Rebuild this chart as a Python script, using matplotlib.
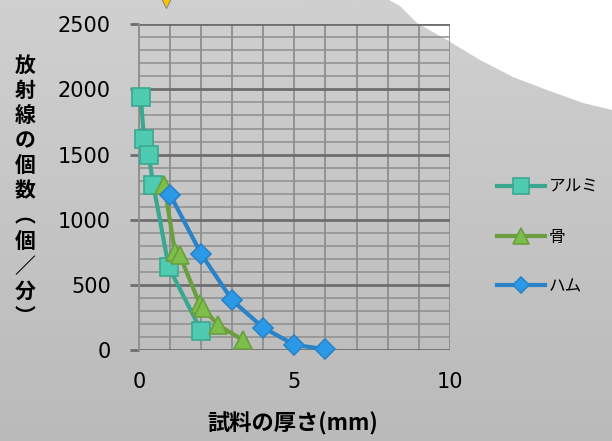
import numpy as np
import matplotlib
matplotlib.use("Agg")
import matplotlib.pyplot as plt
from matplotlib.patches import Polygon
from matplotlib.ticker import MultipleLocator

# 試料の厚さ (mm) と 放射線の個数 (個/分)
alumi_x = [0.05, 0.15, 0.3, 0.45, 0.95, 2.0]
alumi_y = [1940, 1620, 1500, 1270, 635, 145]

bone_x = [0.8, 1.15, 1.3, 1.95, 2.05, 2.55, 3.35]
bone_y = [1270, 750, 730, 350, 320, 190, 75]

ham_x = [1.0, 2.0, 3.0, 4.0, 5.0, 6.0]
ham_y = [1190, 735, 380, 170, 40, 5]

labels = ["アルミ", "骨", "ハム"]
ylabel = "放射線の個数︵個／分︶"
xlabel = "試料の厚さ(mm)"

jp = ["Noto Sans CJK JP", "DejaVu Sans"]

W, H = 612, 441
fig = plt.figure(figsize=(W / 100, H / 100), dpi=100)

# background: grey gradient with the white sweep in the top right corner
bg = fig.add_axes([0, 0, 1, 1])
bg.set_xlim(0, W)
bg.set_ylim(H, 0)
bg.axis("off")
grad = np.linspace(0, 1, 256).reshape(-1, 1)
bg.imshow(grad, extent=[0, W, H, 0], aspect="auto",
          cmap=matplotlib.colors.LinearSegmentedColormap.from_list("g", ["#d0d0d0", "#bababa"]))
sweep = [(389, 0), (400, 6), (417, 23), (447, 40), (480, 60), (513, 77),
         (547, 90), (583, 103), (612, 110), (612, 0)]
bg.add_patch(Polygon(sweep, closed=True, facecolor="white", edgecolor="none"))
bg.plot([166], [2], marker="v", markersize=9, color="#ffc000",
        markeredgecolor="#8a8a8a", markeredgewidth=0.8, clip_on=False)

ax = fig.add_axes([139.3 / W, 1 - 350 / H, (449.6 - 139.3) / W, (350 - 24.3) / H])
ax.set_facecolor("none")
ax.set_xlim(0, 10)
ax.set_ylim(0, 2500)

ax.xaxis.set_major_locator(MultipleLocator(5))
ax.xaxis.set_minor_locator(MultipleLocator(1))
ax.yaxis.set_major_locator(MultipleLocator(500))
ax.yaxis.set_minor_locator(MultipleLocator(100))
ax.grid(which="major", axis="y", color="#6e6e6e", linewidth=2.0)
ax.grid(which="minor", axis="y", color="#8e8e8e", linewidth=1.1)
ax.grid(which="both", axis="x", color="#8e8e8e", linewidth=1.3)
ax.set_axisbelow(True)

for s in ["top", "right", "bottom"]:
    ax.spines[s].set_visible(False)
ax.spines["left"].set_color("#8e8e8e")
ax.spines["left"].set_linewidth(1.3)

ax.tick_params(axis="y", which="major", length=6.5, width=2.0, color="#6e6e6e",
               labelsize=15, pad=14)
ax.tick_params(axis="x", which="major", length=0, labelsize=15, pad=16)
ax.tick_params(which="minor", length=0)

ax.plot(alumi_x, alumi_y, color="#3aa890", linewidth=3, marker="s", markersize=13,
        markerfacecolor="#4ecbb0", markeredgecolor="#3aa890", markeredgewidth=1.2,
        label=labels[0], clip_on=False, zorder=3)
ax.plot(bone_x, bone_y, color="#6a9e3e", linewidth=3, marker="^", markersize=13,
        markerfacecolor="#7dbd4a", markeredgecolor="#6a9e3e", markeredgewidth=1.2,
        label=labels[1], clip_on=False, zorder=4)
ax.plot(ham_x, ham_y, color="#2a82c8", linewidth=3, marker="D", markersize=10,
        markerfacecolor="#2b9ae6", markeredgecolor="#2a82c8", markeredgewidth=1.2,
        label=labels[2], clip_on=False, zorder=5)

leg = ax.legend(loc="upper left", bbox_to_anchor=(497 / W, 1 - 179 / H),
                bbox_transform=fig.transFigure, frameon=False,
                prop={"family": jp, "size": 12}, handlelength=2.9,
                handletextpad=0.2, labelspacing=1.95, borderpad=0,
                borderaxespad=0, markerscale=0.85)

fig.text(25 / W, 1 - 191 / H, "\n".join(ylabel), ha="center", va="center",
         family=jp, fontsize=15, fontweight="bold", linespacing=1.24)
fig.text(293 / W, 1 - 424 / H, xlabel, ha="center", va="center",
         family=jp, fontsize=16, fontweight="bold")

fig.savefig("out.png", dpi=100)
